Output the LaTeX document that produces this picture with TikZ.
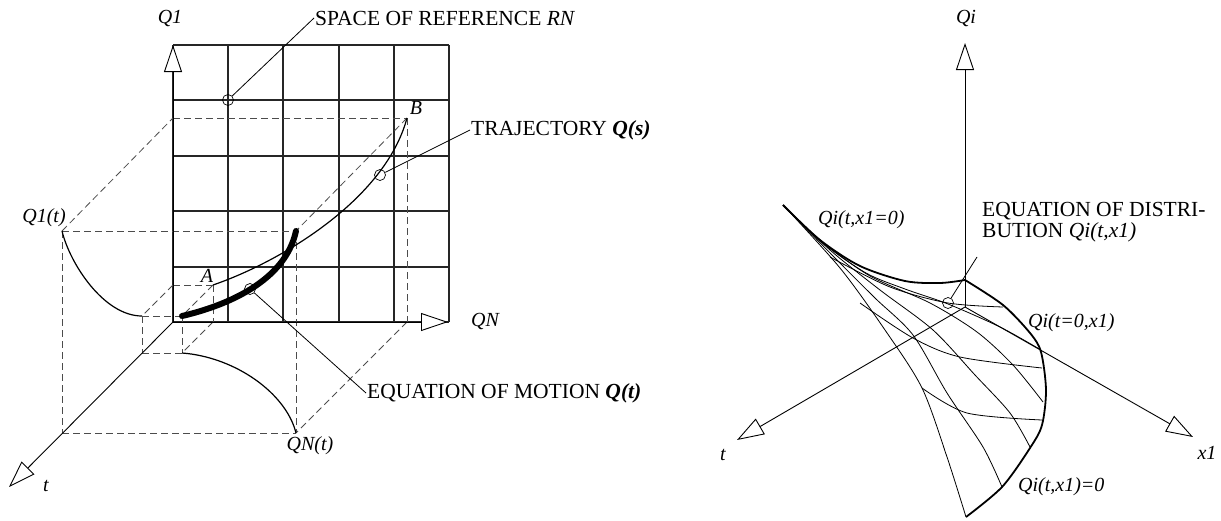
\documentclass[tikz,border=0pt]{standalone}
\usepackage{fontspec}
\setmainfont{Liberation Serif}
\usetikzlibrary{arrows.meta}
\begin{document}
\begin{tikzpicture}[x=1pt,y=-1pt,
  gridline/.style={line width=1.1pt, black!85},
  dashline/.style={line width=0.8pt, black!70, dash pattern=on 7pt off 4pt},
  axis/.style={line width=0.9pt, -{Triangle[length=27pt,width=18pt,fill=white]}},
  lbl/.style={font=\fontsize{20}{22}\selectfont\itshape, inner sep=1pt},
  txt/.style={font=\fontsize{21.5}{21}\selectfont, inner sep=1pt, anchor=west},
  marker/.style={circle, draw, line width=0.7pt, minimum size=11pt, inner sep=0pt},
  leader/.style={line width=0.8pt},
  curve/.style={line width=1.2pt},
  thickcurve/.style={line width=6pt, line cap=round},
  bold/.style={line width=1.8pt, line join=round},
  surf/.style={line width=0.8pt}]
\useasboundingbox (0,0) rectangle (1221,520);

% ---------------- LEFT FIGURE ----------------
\foreach \x in {173,228,283,339,394,449} \draw[gridline] (\x,45) -- (\x,322);
\foreach \y in {45,100,156,211,267,322} \draw[gridline] (173,\y) -- (449,\y);

\coordinate (O) at (173,322);
\coordinate (Q1tip) at (173,45);
\coordinate (QNtip) at (448,322);
\coordinate (ttip) at (9,487);
\coordinate (Q1t) at (62,231);
\coordinate (Q1a) at (173,118);
\coordinate (B) at (407,118);
\coordinate (BN) at (407,322);
\coordinate (QNt) at (296,433);
\coordinate (T) at (296,231);
\coordinate (BL) at (62,433);
\coordinate (sa) at (173,285);
\coordinate (A) at (213,285);
\coordinate (sb) at (213,322);
\coordinate (fa) at (142,316);
\coordinate (fb) at (182,316);
\coordinate (fc) at (182,353);
\coordinate (fd) at (142,353);

% dashed frame
\draw[dashline] (Q1t) -- (Q1a);
\draw[dashline] (Q1a) -- (B);
\draw[dashline] (B) -- (BN);
\draw[dashline] (BN) -- (QNt);
\draw[dashline] (B) -- (T);
\draw[dashline] (Q1t) -- (T);
\draw[dashline] (Q1t) -- (BL);
\draw[dashline] (BL) -- (QNt);
\draw[dashline] (T) -- (QNt);
% small cube
\draw[dashline] (sa) -- (A);
\draw[dashline] (A) -- (sb);
\draw[dashline] (sa) -- (fa);
\draw[dashline] (A) -- (fb);
\draw[dashline] (sb) -- (fc);
\draw[dashline] (fa) -- (fb);
\draw[dashline] (fa) -- (fd);
\draw[dashline] (fd) -- (fc);
\draw[dashline] (fb) -- (fc);

% axes
\draw[axis] (O) -- (Q1tip);
\draw[axis] (O) -- (QNtip);
\draw[axis] (O) -- (ttip);

% curves
\draw[curve] (Q1t) .. controls (70,264) and (104,316) .. (fa);
\draw[curve] (fc) .. controls (235,357) and (286,393) .. (QNt);
\draw[curve] (A) .. controls (280,262) and (385,200) .. (B);
\draw[thickcurve] (fb) .. controls (225,306) and (285,282) .. (T);

% markers and leaders
\node[marker] (m1) at (228,100) {};
\node[marker] (m2) at (380,175) {};
\node[marker] (m3) at (250,289) {};
\node[txt] (tspace) at (314,18) {SPACE OF REFERENCE \textit{RN}};
\node[txt] (ttraj) at (470,130) {TRAJECTORY \textbf{\textit{Q(s)}}};
\node[txt] (tmot) at (366,393) {EQUATION OF MOTION \textbf{\textit{Q(t)}}};
\draw[leader] (m1) -- (tspace.west);
\draw[leader] (m2) -- (ttraj.west);
\draw[leader] (m3) -- (tmot.west);

% labels
\node[lbl] (lQ1) at (170,18) {Q1};
\node[lbl] (lQN) at (485,321) {QN};
\node[lbl] (lt) at (46,486) {t};
\node[lbl] (lQ1t) at (44,218) {Q1(t)};
\node[lbl] (lQNt) at (310,446) {QN(t)};
\node[lbl] (lA) at (207,276) {A};
\node[lbl] (lB) at (416,108) {B};

% ---------------- RIGHT FIGURE ----------------
\coordinate (O2) at (965,307);
\coordinate (Qitip) at (965,43);
\coordinate (t2tip) at (737,440);
\coordinate (x1tip) at (1193,437);

% surface: fan lines
\draw[surf] plot[smooth] coordinates {(783,205) (835,258) (875,298) (913,335) (947,393) (983,447) (1002,487)};
\draw[surf] plot[smooth] coordinates {(783,205) (830,250) (880,290) (933,330) (975,375) (1010,413) (1030,447)};
\draw[surf] plot[smooth] coordinates {(783,205) (820,240) (870,276) (930,303) (977,332) (1013,365) (1043,402)};
\draw[surf] plot[smooth] coordinates {(783,205) (820,241) (866,273) (905,289) (948,304) (1000,327) (1041,350)};
% cross lines
\draw[surf] plot[smooth] coordinates {(830,257) (890,287) (948,303) (1003,307)};
\draw[surf] plot[smooth] coordinates {(860,303) (913,338) (960,357) (1042,368)};
\draw[surf] plot[smooth] coordinates {(922,388) (967,413) (1042,420)};
% left boundary
\draw[surf] plot[smooth] coordinates {(783,205) (840,268) (885,330) (922,388) (947,457) (966,517)};
% top and right boundaries (bold)
\draw[bold] plot[smooth] coordinates {(783,205) (820,240) (860,266) (905,281) (940,283) (965,280)};
\draw[bold] plot[smooth] coordinates {(965,280) (1003,305) (1030,333) (1041,352) (1046,390) (1042,425) (1030,448) (1002,487) (966,517)};

% axes
\draw[axis] (O2) -- (Qitip);
\draw[axis] (O2) -- (t2tip);
\draw[axis] (O2) -- (x1tip);

% marker and leader
\node[marker] (m4) at (948,303) {};
\coordinate (d4) at (977,257);
\draw[leader] (m4) -- (d4);
\node[txt, align=left] (tdist) at (981,222) {EQUATION OF DISTRI-\\BUTION \textit{Qi(t,x1)}};

% labels
\node[lbl] (lQi) at (966,18) {Qi};
\node[lbl, anchor=west] (lx10) at (817,220) {Qi(t,x1=0)};
\node[lbl, anchor=west] (lt0) at (1027,323) {Qi(t=0,x1)};
\node[lbl, anchor=west] (lz) at (1017,487) {Qi(t,x1)=0};
\node[lbl] (lt2) at (723,455) {t};
\node[lbl] (lx1) at (1207,453) {x1};
\end{tikzpicture}
\end{document}
